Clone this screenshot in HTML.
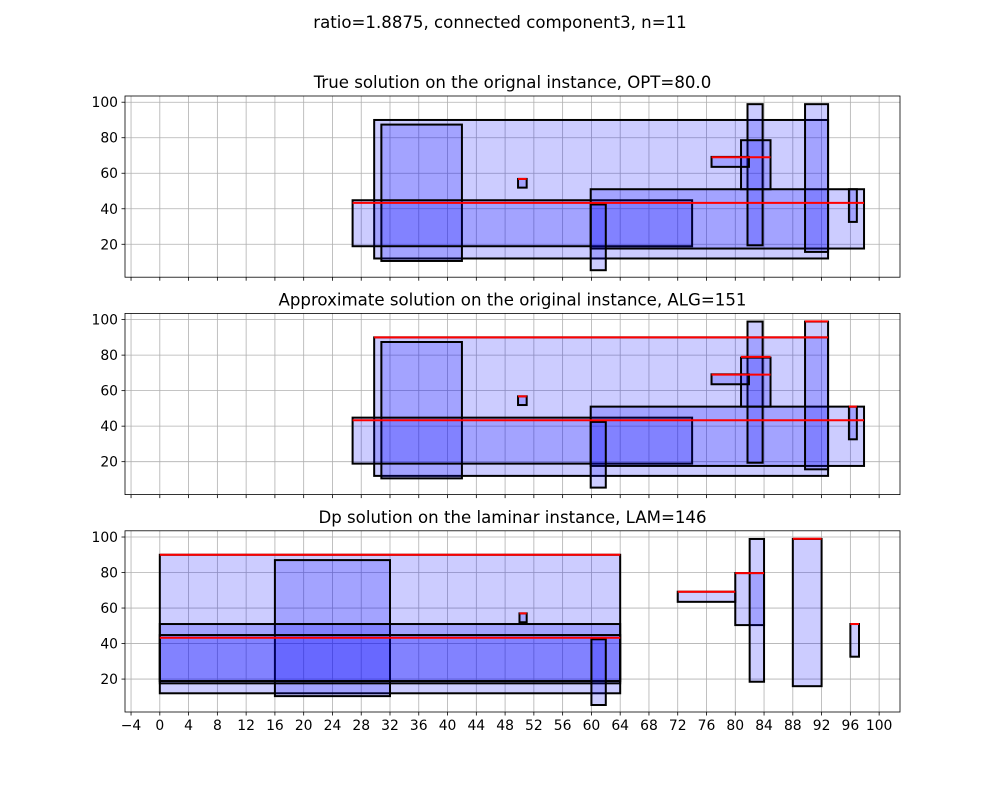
<!DOCTYPE html>
<html><head><meta charset="utf-8"><style>
body{margin:0;background:#fff}
svg{display:block;font-family:"DejaVu Sans","Liberation Sans",sans-serif}
</style></head><body>
<svg id="fig" width="1000" height="800" xmlns="http://www.w3.org/2000/svg">
<rect width="1000" height="800" fill="#fff"/>
<text x="500" y="28" font-size="16.6" text-anchor="middle">ratio=1.8875, connected component3, n=11</text>
</svg>
<script>
const xTicks=[-4,0,4,8,12,16,20,24,28,32,36,40,44,48,52,56,60,64,68,72,76,80,84,88,92,96,100];
const yTicks=[20,40,60,80,100];
const titles=["True solution on the orignal instance, OPT=80.0","Approximate solution on the original instance, ALG=151","Dp solution on the laminar instance, LAM=146"];
const rectsOrig=[[29.8,92.9,12,90],[30.8,42,10.6,87.4],[26.8,74,18.9,44.8],[59.9,97.9,17.6,51],[59.9,62,5.4,42.4],[81.7,83.8,19.4,98.9],[80.8,84.9,51,78.6],[76.7,81.9,63.6,69.2],[89.7,92.9,15.7,98.9],[95.8,96.9,32.6,51],[49.8,51,51.9,56.8]];
const rectsLam=[[0,64,12,90],[16,32,10.4,87],[0,64,17.6,51],[0,64,18.9,44.8],[60,62,5.4,42.4],[50,51,52,57],[72,80,63.5,69.2],[80,84,50.4,79.7],[82,84,18.5,98.9],[88,92,16,98.9],[96,97.2,32.6,51]];
const reds1=[[26.8,97.9,43.3],[76.7,84.9,69],[49.8,51,56.8]];
const reds2=[[29.8,92.9,90],[26.8,97.9,43.3],[80.8,84.9,79],[76.7,84.9,69],[89.7,92.9,99],[95.8,96.9,51],[49.8,51,56.8]];
const reds3=[[0,64,90],[0,64,43.3],[50,51,57],[72,80,69.2],[80,84,79.7],[88,92,99],[96,97.2,51]];
const panels=[[rectsOrig,reds1],[rectsOrig,reds2],[rectsLam,reds3]];
const NS="http://www.w3.org/2000/svg";
const svg=document.getElementById('fig');
const L=125,R=900,xmin=-4.84,xmax=102.9,ymin=1.46,ymax=103.5,H=181.2;
const tops=[96,313.4,530.8];
function mk(t,a,p){const e=document.createElementNS(NS,t);for(const k in a)e.setAttribute(k,a[k]);(p||svg).appendChild(e);return e;}
const sx=v=>L+(v-xmin)/(xmax-xmin)*(R-L);
panels.forEach((pn,i)=>{
  const T=tops[i],B=T+H;
  const sy=v=>B-(v-ymin)/(ymax-ymin)*H;
  const g=mk('g',{});
  
  
  const cp=mk('clipPath',{id:'c'+i},g);mk('rect',{x:L,y:T,width:R-L,height:H},cp);
  xTicks.forEach(t=>{const x=sx(t);
    const gl=mk('line',{x1:x,x2:x,y1:T,y2:B,stroke:'#b0b0b0','stroke-width':0.8},g);
    
    mk('line',{x1:x,x2:x,y1:B,y2:B+3.5,stroke:'#000','stroke-width':0.8},g);
    if(i==2){const tx=mk('text',{x:x,y:B+18,'font-size':13.9,'text-anchor':'middle'},g);tx.textContent=t<0?'\u2212'+(-t):t;
      }
  });
  yTicks.forEach(t=>{const y=sy(t);
    mk('line',{x1:L,x2:R,y1:y,y2:y,stroke:'#b0b0b0','stroke-width':0.8},g);
    mk('line',{x1:L-3.5,x2:L,y1:y,y2:y,stroke:'#000','stroke-width':0.8},g);
    const tx=mk('text',{x:L-7,y:y+5,'font-size':13.9,'text-anchor':'end'},g);tx.textContent=t;
    
  });
  const d=mk('g',{'clip-path':'url(#c'+i+')'},g);
  pn[0].forEach(r=>{const x0=sx(r[0]),x1=sx(r[1]),y0=sy(r[3]),y1=sy(r[2]);
    const e=mk('rect',{x:x0,y:y0,width:x1-x0,height:y1-y0,fill:'rgba(0,0,255,0.2)',stroke:'#000','stroke-width':2},d);
    });
  pn[1].forEach(r=>{const y=sy(r[2]);
    const e=mk('line',{x1:sx(r[0]),x2:sx(r[1]),y1:y,y2:y,stroke:'#f00','stroke-width':2},d);
    });
  mk('rect',{x:L,y:T,width:R-L,height:H,fill:'none',stroke:'#000','stroke-width':0.8},g);
  const tt=mk('text',{x:(L+R)/2,y:T-8,'font-size':16.6,'text-anchor':'middle'},g);tt.textContent=titles[i];
  
});
</script>
</body></html>
